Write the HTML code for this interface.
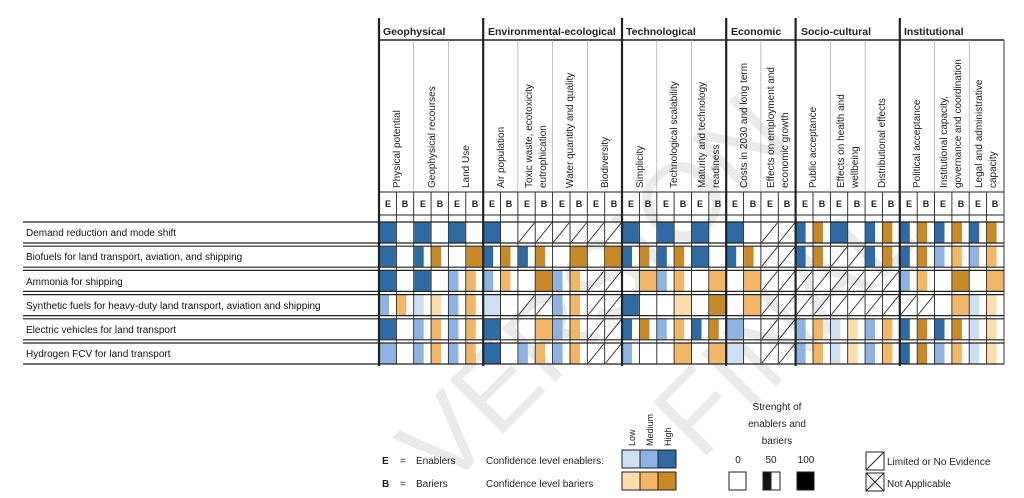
<!DOCTYPE html>
<html><head><meta charset="utf-8"><style>
html,body{margin:0;padding:0;background:#fff;width:1024px;height:498px;overflow:hidden}
svg{display:block;overflow:hidden;font-family:"Liberation Sans",sans-serif}
.h{font-size:10px;fill:#222}
.g{font-size:10.5px;font-weight:bold;fill:#222}
.eb{font-size:9px;font-weight:bold;fill:#222}
.r{font-size:10px;fill:#111}
.l{font-size:10px;fill:#222}
.e1{fill:#2e6aa3}.e2{fill:#8db3e2}.e3{fill:#cddff3}
.b1{fill:#c88a26}.b2{fill:#f2b766}.b3{fill:#fbdcaa}
.d{stroke:#222;stroke-width:0.9;fill:none}
</style></head><body>
<svg width="1024" height="498" viewBox="0 0 1024 498">
<!-- watermark -->
<g fill="#000" opacity="0.08" font-size="110">
<text transform="translate(445,492) rotate(-45)">VERSION</text>
<text transform="translate(700,462) rotate(-45)">FINAL</text>
</g>
<!-- row 1 -->
<g transform="translate(0,222)">
<rect x="379.5" y="0.5" width="16.4" height="20" class="e1"/>
<rect x="414.2" y="0.5" width="16.4" height="20" class="e1"/>
<rect x="448.9" y="0.5" width="16.4" height="20" class="e1"/>
<rect x="483.7" y="0.5" width="16.4" height="20" class="e1"/>
<rect x="622.5" y="0.5" width="16.4" height="20" class="e1"/>
<rect x="657.3" y="0.5" width="16.4" height="20" class="e1"/>
<rect x="692.0" y="0.5" width="16.4" height="20" class="e1"/>
<rect x="726.7" y="0.5" width="16.4" height="20" class="e1"/>
<rect x="796.1" y="0.5" width="9.5" height="20" class="e1"/>
<rect x="813.5" y="0.5" width="9.5" height="20" class="b1"/>
<rect x="830.9" y="0.5" width="16.4" height="20" class="e1"/>
<rect x="865.6" y="0.5" width="9.5" height="20" class="e1"/>
<rect x="882.9" y="0.5" width="9.5" height="20" class="b1"/>
<rect x="900.3" y="0.5" width="9.5" height="20" class="e1"/>
<rect x="917.7" y="0.5" width="9.5" height="20" class="b1"/>
<rect x="935.0" y="0.5" width="9.5" height="20" class="e1"/>
<rect x="952.4" y="0.5" width="9.5" height="20" class="b1"/>
<rect x="969.7" y="0.5" width="9.5" height="20" class="e1"/>
<rect x="987.1" y="0.5" width="9.5" height="20" class="b1"/>
<path class="d" d="M518.9 20L534.3 1M536.2 20L551.6 1M553.6 20L569 1M571 20L586.4 1M588.3 20L603.7 1M605.7 20L621.1 1M761.9 20L777.3 1M779.3 20L794.7 1"/>
</g>
<!-- row 2 -->
<g transform="translate(0,246.2)">
<rect x="379.5" y="0.5" width="16.4" height="20" class="e1"/>
<rect x="414.2" y="0.5" width="9.5" height="20" class="e1"/>
<rect x="431.6" y="0.5" width="9.5" height="20" class="b1"/>
<rect x="466.3" y="0.5" width="16.4" height="20" class="b1"/>
<rect x="483.7" y="0.5" width="9.5" height="20" class="e1"/>
<rect x="501.0" y="0.5" width="9.5" height="20" class="b1"/>
<rect x="518.4" y="0.5" width="9.5" height="20" class="e1"/>
<rect x="535.7" y="0.5" width="9.5" height="20" class="b1"/>
<rect x="570.5" y="0.5" width="16.4" height="20" class="b1"/>
<rect x="605.2" y="0.5" width="16.4" height="20" class="b1"/>
<rect x="622.5" y="0.5" width="9.5" height="20" class="e1"/>
<rect x="639.9" y="0.5" width="9.5" height="20" class="b1"/>
<rect x="657.3" y="0.5" width="9.5" height="20" class="e1"/>
<rect x="674.6" y="0.5" width="9.5" height="20" class="b1"/>
<rect x="692.0" y="0.5" width="16.4" height="20" class="e1"/>
<rect x="726.7" y="0.5" width="9.5" height="20" class="e1"/>
<rect x="744.1" y="0.5" width="9.5" height="20" class="b1"/>
<rect x="796.1" y="0.5" width="9.5" height="20" class="e1"/>
<rect x="813.5" y="0.5" width="9.5" height="20" class="b1"/>
<rect x="865.6" y="0.5" width="9.5" height="20" class="e1"/>
<rect x="882.9" y="0.5" width="9.5" height="20" class="b1"/>
<rect x="900.3" y="0.5" width="9.5" height="20" class="e1"/>
<rect x="917.7" y="0.5" width="9.5" height="20" class="b1"/>
<rect x="935.0" y="0.5" width="9.5" height="20" class="e2"/>
<rect x="952.4" y="0.5" width="9.5" height="20" class="b2"/>
<rect x="969.7" y="0.5" width="9.5" height="20" class="e2"/>
<rect x="987.1" y="0.5" width="9.5" height="20" class="b2"/>
<path class="d" d="M761.9 20L777.3 1M779.3 20L794.7 1M831.4 20L846.8 1M848.7 20L864.1 1"/>
</g>
<!-- row 3 -->
<g transform="translate(0,270.4)">
<rect x="379.5" y="0.5" width="16.4" height="20" class="e1"/>
<rect x="414.2" y="0.5" width="16.4" height="20" class="e1"/>
<rect x="448.9" y="0.5" width="9.5" height="20" class="e2"/>
<rect x="466.3" y="0.5" width="9.5" height="20" class="b2"/>
<rect x="483.7" y="0.5" width="9.5" height="20" class="e2"/>
<rect x="501.0" y="0.5" width="9.5" height="20" class="b2"/>
<rect x="535.7" y="0.5" width="16.4" height="20" class="b1"/>
<rect x="553.1" y="0.5" width="9.5" height="20" class="e2"/>
<rect x="570.5" y="0.5" width="9.5" height="20" class="b2"/>
<rect x="639.9" y="0.5" width="16.4" height="20" class="b2"/>
<rect x="657.3" y="0.5" width="9.5" height="20" class="e2"/>
<rect x="674.6" y="0.5" width="9.5" height="20" class="b2"/>
<rect x="709.3" y="0.5" width="16.4" height="20" class="b2"/>
<rect x="744.1" y="0.5" width="16.4" height="20" class="b2"/>
<rect x="900.3" y="0.5" width="9.5" height="20" class="e2"/>
<rect x="917.7" y="0.5" width="9.5" height="20" class="b2"/>
<rect x="952.4" y="0.5" width="16.4" height="20" class="b1"/>
<rect x="987.1" y="0.5" width="16.4" height="20" class="b2"/>
<path class="d" d="M588.3 20L603.7 1M605.7 20L621.1 1M761.9 20L777.3 1M779.3 20L794.7 1M796.6 20L812 1M814 20L829.4 1M831.4 20L846.8 1M848.7 20L864.1 1M866.1 20L881.5 1M883.4 20L898.8 1"/>
</g>
<!-- row 4 -->
<g transform="translate(0,294.6)">
<rect x="379.5" y="0.5" width="9.5" height="20" class="e2"/>
<rect x="396.9" y="0.5" width="9.5" height="20" class="b2"/>
<rect x="414.2" y="0.5" width="9.5" height="20" class="e3"/>
<rect x="431.6" y="0.5" width="9.5" height="20" class="b3"/>
<rect x="448.9" y="0.5" width="9.5" height="20" class="e2"/>
<rect x="466.3" y="0.5" width="9.5" height="20" class="b2"/>
<rect x="483.7" y="0.5" width="16.4" height="20" class="e3"/>
<rect x="553.1" y="0.5" width="9.5" height="20" class="e2"/>
<rect x="570.5" y="0.5" width="9.5" height="20" class="b2"/>
<rect x="622.5" y="0.5" width="16.4" height="20" class="e1"/>
<rect x="674.6" y="0.5" width="16.4" height="20" class="b3"/>
<rect x="709.3" y="0.5" width="16.4" height="20" class="b1"/>
<rect x="744.1" y="0.5" width="16.4" height="20" class="b2"/>
<rect x="952.4" y="0.5" width="16.4" height="20" class="b2"/>
<rect x="969.7" y="0.5" width="9.5" height="20" class="e3"/>
<rect x="987.1" y="0.5" width="9.5" height="20" class="b3"/>
<path class="d" d="M518.9 20L534.3 1M536.2 20L551.6 1M588.3 20L603.7 1M605.7 20L621.1 1M761.9 20L777.3 1M779.3 20L794.7 1M796.6 20L812 1M814 20L829.4 1M831.4 20L846.8 1M848.7 20L864.1 1M866.1 20L881.5 1M883.4 20L898.8 1M900.8 20L916.2 1M918.2 20L933.6 1"/>
</g>
<!-- row 5 -->
<g transform="translate(0,318.8)">
<rect x="379.5" y="0.5" width="16.4" height="20" class="e1"/>
<rect x="414.2" y="0.5" width="9.5" height="20" class="e2"/>
<rect x="431.6" y="0.5" width="9.5" height="20" class="b2"/>
<rect x="448.9" y="0.5" width="9.5" height="20" class="e2"/>
<rect x="466.3" y="0.5" width="9.5" height="20" class="b2"/>
<rect x="483.7" y="0.5" width="16.4" height="20" class="e1"/>
<rect x="535.7" y="0.5" width="16.4" height="20" class="b2"/>
<rect x="553.1" y="0.5" width="9.5" height="20" class="e2"/>
<rect x="570.5" y="0.5" width="9.5" height="20" class="b2"/>
<rect x="622.5" y="0.5" width="9.5" height="20" class="e1"/>
<rect x="639.9" y="0.5" width="9.5" height="20" class="b1"/>
<rect x="657.3" y="0.5" width="9.5" height="20" class="e2"/>
<rect x="674.6" y="0.5" width="9.5" height="20" class="b2"/>
<rect x="692.0" y="0.5" width="9.5" height="20" class="e1"/>
<rect x="709.3" y="0.5" width="9.5" height="20" class="b1"/>
<rect x="726.7" y="0.5" width="16.4" height="20" class="e2"/>
<rect x="796.1" y="0.5" width="9.5" height="20" class="e2"/>
<rect x="813.5" y="0.5" width="9.5" height="20" class="b2"/>
<rect x="830.9" y="0.5" width="9.5" height="20" class="e3"/>
<rect x="848.2" y="0.5" width="9.5" height="20" class="b3"/>
<rect x="865.6" y="0.5" width="9.5" height="20" class="e2"/>
<rect x="882.9" y="0.5" width="9.5" height="20" class="b2"/>
<rect x="900.3" y="0.5" width="9.5" height="20" class="e1"/>
<rect x="917.7" y="0.5" width="9.5" height="20" class="b1"/>
<rect x="935.0" y="0.5" width="9.5" height="20" class="e1"/>
<rect x="952.4" y="0.5" width="9.5" height="20" class="b1"/>
<rect x="969.7" y="0.5" width="9.5" height="20" class="e3"/>
<rect x="987.1" y="0.5" width="9.5" height="20" class="b3"/>
<path class="d" d="M588.3 20L603.7 1M605.7 20L621.1 1M761.9 20L777.3 1M779.3 20L794.7 1"/>
</g>
<!-- row 6 -->
<g transform="translate(0,343)">
<rect x="379.5" y="0.5" width="16.4" height="20" class="e2"/>
<rect x="414.2" y="0.5" width="9.5" height="20" class="e2"/>
<rect x="431.6" y="0.5" width="9.5" height="20" class="b2"/>
<rect x="448.9" y="0.5" width="9.5" height="20" class="e2"/>
<rect x="466.3" y="0.5" width="9.5" height="20" class="b2"/>
<rect x="483.7" y="0.5" width="16.4" height="20" class="e1"/>
<rect x="518.4" y="0.5" width="9.5" height="20" class="e2"/>
<rect x="535.7" y="0.5" width="9.5" height="20" class="b2"/>
<rect x="553.1" y="0.5" width="9.5" height="20" class="e2"/>
<rect x="570.5" y="0.5" width="9.5" height="20" class="b2"/>
<rect x="622.5" y="0.5" width="9.5" height="20" class="e2"/>
<rect x="674.6" y="0.5" width="16.4" height="20" class="b2"/>
<rect x="709.3" y="0.5" width="16.4" height="20" class="b2"/>
<rect x="726.7" y="0.5" width="16.4" height="20" class="e3"/>
<rect x="796.1" y="0.5" width="9.5" height="20" class="e2"/>
<rect x="813.5" y="0.5" width="9.5" height="20" class="b2"/>
<rect x="830.9" y="0.5" width="9.5" height="20" class="e3"/>
<rect x="848.2" y="0.5" width="9.5" height="20" class="b3"/>
<rect x="865.6" y="0.5" width="9.5" height="20" class="e2"/>
<rect x="882.9" y="0.5" width="9.5" height="20" class="b2"/>
<rect x="900.3" y="0.5" width="9.5" height="20" class="e1"/>
<rect x="917.7" y="0.5" width="9.5" height="20" class="b1"/>
<rect x="935.0" y="0.5" width="9.5" height="20" class="e2"/>
<rect x="952.4" y="0.5" width="9.5" height="20" class="b2"/>
<rect x="969.7" y="0.5" width="9.5" height="20" class="e3"/>
<rect x="987.1" y="0.5" width="9.5" height="20" class="b3"/>
<path class="d" d="M588.3 20L603.7 1M605.7 20L621.1 1M761.9 20L777.3 1M779.3 20L794.7 1"/>
</g>
<!-- grid lines -->
<g stroke="#222" fill="none">
<path stroke-width="0.9" d="M379 192V364M396.4 192V364M413.7 192V364M431.1 192V364M448.4 192V364M465.8 192V364M483.2 192V364M500.5 192V364M517.9 192V364M535.2 192V364M552.6 192V364M570 192V364M587.3 192V364M604.7 192V364M622 192V364M639.4 192V364M656.8 192V364M674.1 192V364M691.5 192V364M708.8 192V364M726.2 192V364M743.6 192V364M760.9 192V364M778.3 192V364M795.6 192V364M813 192V364M830.4 192V364M847.7 192V364M865.1 192V364M882.4 192V364M899.8 192V364M917.2 192V364M934.5 192V364M951.9 192V364M969.2 192V364M986.6 192V364M1004 40V364"/>
<path stroke-width="1.2" d="M23 222H1004M23 243H1004M23 246.2H1004M23 267.2H1004M23 270.4H1004M23 291.4H1004M23 294.6H1004M23 315.6H1004M23 318.8H1004M23 339.8H1004M23 343H1004M23 364H1004"/>
<path stroke-width="1" d="M379 192H1004M379 215H1004"/>
<path stroke-width="1.6" d="M379 40H1004"/>
<path stroke-width="0.6" stroke="#999" d="M413.7 40V192M448.4 40V192M517.9 40V192M552.6 40V192M587.3 40V192M656.8 40V192M691.5 40V192M760.9 40V192M830.4 40V192M865.1 40V192M934.5 40V192M969.2 40V192"/>
<path stroke-width="2.2" d="M379 18V366M483.2 18V366M622 18V366M726.2 18V366M795.6 18V366M899.8 18V366"/>
</g>
<!-- group labels -->
<text class="g" x="383" y="35">Geophysical</text>
<text class="g" x="488" y="35">Environmental-ecological</text>
<text class="g" x="626" y="35">Technological</text>
<text class="g" x="731" y="35">Economic</text>
<text class="g" x="801" y="35">Socio-cultural</text>
<text class="g" x="904" y="35">Institutional</text>
<!-- rotated headers -->
<g class="h">
<text transform="translate(400,188) rotate(-90)">Physical potential</text>
<text transform="translate(435,188) rotate(-90)">Geophysical recourses</text>
<text transform="translate(469,188) rotate(-90)">Land Use</text>
<text transform="translate(504,188) rotate(-90)">Air population</text>
<text transform="translate(532,188) rotate(-90)">Toxic waste, ecotoxicity</text>
<text transform="translate(546,188) rotate(-90)">eutrophication</text>
<text transform="translate(573,188) rotate(-90)">Water quantity and quality</text>
<text transform="translate(608,188) rotate(-90)">Biodiversity</text>
<text transform="translate(643,188) rotate(-90)">Simplicity</text>
<text transform="translate(677,188) rotate(-90)">Technological scalability</text>
<text transform="translate(705,188) rotate(-90)">Maturity and technology</text>
<text transform="translate(719,188) rotate(-90)">readiness</text>
<text transform="translate(747,188) rotate(-90)">Costs in 2030 and long term</text>
<text transform="translate(774,188) rotate(-90)">Effects on employment  and</text>
<text transform="translate(788,188) rotate(-90)">economic growth</text>
<text transform="translate(816,188) rotate(-90)">Public acceptance</text>
<text transform="translate(844,188) rotate(-90)">Effects on health and</text>
<text transform="translate(858,188) rotate(-90)">wellbeing</text>
<text transform="translate(885,188) rotate(-90)">Distributional effects</text>
<text transform="translate(920,188) rotate(-90)">Political acceptance</text>
<text transform="translate(947,188) rotate(-90)">Institutional capacity,</text>
<text transform="translate(961,188) rotate(-90)">governance and coordination</text>
<text transform="translate(982,188) rotate(-90)">Legal and administrative</text>
<text transform="translate(996,188) rotate(-90)">capacity</text>
</g>
<g class="eb" text-anchor="middle">
<text x="388" y="207">E</text><text x="405" y="207">B</text><text x="423" y="207">E</text><text x="440" y="207">B</text><text x="457" y="207">E</text><text x="475" y="207">B</text>
<text x="492" y="207">E</text><text x="509" y="207">B</text><text x="527" y="207">E</text><text x="544" y="207">B</text><text x="562" y="207">E</text><text x="579" y="207">B</text>
<text x="596" y="207">E</text><text x="614" y="207">B</text><text x="631" y="207">E</text><text x="648" y="207">B</text><text x="666" y="207">E</text><text x="683" y="207">B</text>
<text x="700" y="207">E</text><text x="718" y="207">B</text><text x="735" y="207">E</text><text x="753" y="207">B</text><text x="770" y="207">E</text><text x="787" y="207">B</text>
<text x="805" y="207">E</text><text x="822" y="207">B</text><text x="839" y="207">E</text><text x="857" y="207">B</text><text x="874" y="207">E</text><text x="891" y="207">B</text>
<text x="909" y="207">E</text><text x="926" y="207">B</text><text x="943" y="207">E</text><text x="961" y="207">B</text><text x="978" y="207">E</text><text x="995" y="207">B</text>
</g>
<!-- row labels -->
<g class="r">
<text x="26" y="236">Demand reduction and mode shift</text>
<text x="26" y="260">Biofuels for land transport, aviation, and shipping</text>
<text x="26" y="285">Ammonia for shipping</text>
<text x="26" y="309">Synthetic fuels for heavy-duty land transport, aviation and shipping</text>
<text x="26" y="333">Electric vehicles for land transport</text>
<text x="26" y="357">Hydrogen FCV for land transport</text>
</g>
<!-- legend -->
<g class="l">
<text x="382" y="464" font-weight="bold">E</text><text x="400" y="464">=</text><text x="416" y="464">Enablers</text>
<text x="382" y="487" font-weight="bold">B</text><text x="400" y="487">=</text><text x="416" y="487">Bariers</text>
<text x="486" y="464">Confidence level enablers:</text>
<text x="486" y="487">Confidence level bariers</text>
<text transform="translate(635,446) rotate(-90)" font-size="9">Low</text>
<text transform="translate(653,446) rotate(-90)" font-size="9">Medium</text>
<text transform="translate(671,446) rotate(-90)" font-size="9">High</text>
<text x="777" y="410" text-anchor="middle">Strenght of</text>
<text x="777" y="427" text-anchor="middle">enablers and</text>
<text x="777" y="444" text-anchor="middle">bariers</text>
<text x="738" y="463" text-anchor="middle">0</text>
<text x="771" y="463" text-anchor="middle">50</text>
<text x="806" y="463" text-anchor="middle">100</text>
<text x="887" y="465">Limited or No Evidence</text>
<text x="887" y="487">Not Applicable</text>
</g>
<g stroke="#222" stroke-width="1">
<rect x="622" y="450" width="18" height="18" fill="#cddff3"/><rect x="640" y="450" width="18" height="18" fill="#8db3e2"/><rect x="658" y="450" width="18" height="18" fill="#2e6aa3"/>
<rect x="622" y="472" width="18" height="18" fill="#fbdcaa"/><rect x="640" y="472" width="18" height="18" fill="#f2b766"/><rect x="658" y="472" width="18" height="18" fill="#c88a26"/>
<rect x="729" y="472" width="17" height="18" fill="#fff"/>
<rect x="763" y="472" width="17" height="18" fill="#fff"/><rect x="763" y="472" width="8" height="18" fill="#111"/>
<rect x="797" y="472" width="17" height="18" fill="#000"/>
<rect x="866" y="452" width="18" height="18" fill="#fff"/><line x1="866" y1="470" x2="884" y2="452"/>
<rect x="866" y="473" width="18" height="18" fill="#fff"/><line x1="866" y1="491" x2="884" y2="473"/><line x1="866" y1="473" x2="884" y2="491"/>
</g>
</svg>
</body></html>
